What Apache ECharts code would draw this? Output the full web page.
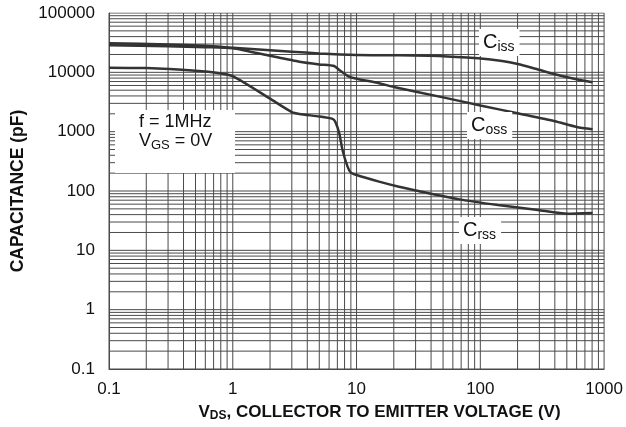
<!DOCTYPE html>
<html>
<head>
<meta charset="utf-8">
<script src="https://cdn.jsdelivr.net/npm/echarts@6/dist/echarts.min.js"></script>
<style>
html,body{margin:0;padding:0;background:#fff;}
#chart{width:626px;height:427px;}
</style>
</head>
<body>
<div id="chart"></div>
<script>
// ---- data ----
const xMin = 0.1, xMax = 1000;
const yMin = 0.1, yMax = 100000;
const xTickLabels = ['0.1', '1', '10', '100', '1000'];
const yTickLabels = ['0.1', '1', '10', '100', '1000', '10000', '100000'];
const minorMultipliers = [1, 2, 3, 4, 5, 6, 7, 8, 9];

const vdsCiss = [0.1, 0.3, 0.6, 1, 2, 3, 5, 10, 20, 46, 96, 150, 201, 292, 422, 611, 807];
const ciss    = [31000, 29500, 28000, 26000, 23600, 22300, 20800, 19600, 19400, 18900, 17200, 15550, 13800, 11170, 9020, 7570, 6800];

const vdsCoss = [0.1, 0.3, 0.6, 1, 2, 3.46, 5, 6.6, 7.25, 8.7, 9.6, 15.2, 20, 50, 100, 200, 400, 600, 807];
const coss    = [28500, 27500, 26500, 25500, 19000, 15100, 13600, 12800, 10960, 8450, 7940, 6540, 5680, 3785, 2770, 2040, 1500, 1200, 1100];

const vdsCrss = [0.1, 0.2, 0.5, 0.78, 1, 2, 3, 3.46, 5, 6.4, 6.73, 7.25, 7.7, 8.46, 9.0, 10, 15.2, 22, 31.6, 66, 139, 292, 508, 807];
const crss    = [12000, 11800, 10600, 9640, 8600, 3600, 2140, 1990, 1800, 1640, 1470, 940, 491, 257, 204, 186, 144, 118, 100, 73, 58, 47.9, 41.5, 42.6];

// ---- build ----
const FONT = 'Liberation Sans, Arial, sans-serif';
const GRID_COLOR = '#4a4a4a';

function gridValues(lo, hi) {
  const out = [];
  for (let d = lo; d < hi * 0.999; d *= 10) {
    minorMultipliers.forEach(m => out.push(Number((d * m).toPrecision(6))));
  }
  out.push(hi);
  return out;
}
const gx = gridValues(xMin, xMax);
const gy = gridValues(yMin, yMax);

const series = [];
gx.forEach(v => series.push({
  type: 'line', silent: true, symbol: 'none', animation: false, z: 1,
  lineStyle: { color: GRID_COLOR, width: 1 },
  data: [[v, yMin], [v, yMax]]
}));
gy.forEach(v => series.push({
  type: 'line', silent: true, symbol: 'none', animation: false, z: 1,
  lineStyle: { color: GRID_COLOR, width: 1 },
  data: [[xMin, v], [xMax, v]]
}));

function curve(xs, ys) {
  return {
    type: 'line', symbol: 'none', animation: false, z: 5,
    smooth: 0.2,
    lineStyle: { color: '#333', width: 2.5 },
    data: xs.map((x, i) => [x, ys[i]])
  };
}
series.push(curve(vdsCiss, ciss));
series.push(curve(vdsCoss, coss));
series.push(curve(vdsCrss, crss));

function fmt(v) { return String(Number(v.toPrecision(6))); }

const subRich = {
  b: { font: '20px ' + FONT, fill: '#111' },
  s: { font: '14px ' + FONT, fill: '#111', padding: [9, 0, 0, 0] }
};

const chart = echarts.init(document.getElementById('chart'), null, { renderer: 'canvas' });
chart.setOption({
  backgroundColor: '#fff',
  animation: false,
  grid: { left: 109, right: 20, top: 13, bottom: 58 },
  xAxis: {
    type: 'log', logBase: 10, min: xMin, max: xMax, interval: 1,
    axisLine: { show: true, lineStyle: { color: GRID_COLOR, width: 1 } },
    axisTick: { show: false },
    splitLine: { show: false },
    axisLabel: { color: '#111', fontFamily: FONT, fontSize: 17, margin: 12,
      formatter: v => { const s = fmt(v); return xTickLabels.includes(s) ? s : ''; } },
    name: '{b|V}{s|DS}{b|, COLLECTOR TO EMITTER VOLTAGE (V)}',
    nameLocation: 'middle', nameGap: 33,
    nameTextStyle: {
      fontFamily: FONT, color: '#111', padding: [0, 0, 0, 46],
      rich: {
        b: { fontFamily: FONT, fontSize: 17, fontWeight: 'bold', color: '#111' },
        s: { fontFamily: FONT, fontSize: 12, fontWeight: 'bold', color: '#111', padding: [8, 0, 0, 0] }
      }
    }
  },
  yAxis: {
    type: 'log', logBase: 10, min: yMin, max: yMax, interval: 1,
    axisLine: { show: true, lineStyle: { color: GRID_COLOR, width: 1 } },
    axisTick: { show: false },
    splitLine: { show: false },
    axisLabel: { color: '#111', fontFamily: FONT, fontSize: 17, margin: 14,
      formatter: v => { const s = fmt(v); return yTickLabels.includes(s) ? s : ''; } },
    name: 'CAPACITANCE (pF)',
    nameLocation: 'middle', nameGap: 80, nameRotate: 90,
    nameTextStyle: { fontFamily: FONT, fontSize: 17.5, fontWeight: 'bold', color: '#111' }
  },
  series: series,
  graphic: [
    { type: 'rect', z: 100, silent: true,
      shape: { x: 115, y: 110, width: 120, height: 63 },
      style: { fill: '#fff' } },
    { type: 'text', z: 101, silent: true, left: 139, top: 113,
      style: { text: 'f = 1MHz', font: '18px ' + FONT, fill: '#111' } },
    { type: 'text', z: 101, silent: true, left: 139, top: 132,
      style: { text: '{b|V}{s|GS}{b| = 0V}', fill: '#111',
        rich: { b: { font: '18px ' + FONT, fill: '#111' },
                s: { font: '13px ' + FONT, fill: '#111', padding: [8, 0, 0, 0] } } } },
    { type: 'text', z: 101, silent: true, left: 479, top: 29,
      style: { text: '{b|C}{s|iss}', backgroundColor: '#fff', padding: [2, 5, 2, 4], rich: subRich } },
    { type: 'text', z: 101, silent: true, left: 467, top: 112,
      style: { text: '{b|C}{s|oss}', backgroundColor: '#fff', padding: [2, 5, 2, 4], rich: subRich } },
    { type: 'text', z: 101, silent: true, left: 459, top: 217,
      style: { text: '{b|C}{s|rss}', backgroundColor: '#fff', padding: [2, 5, 2, 4], rich: subRich } }
  ]
});
</script>
</body>
</html>
